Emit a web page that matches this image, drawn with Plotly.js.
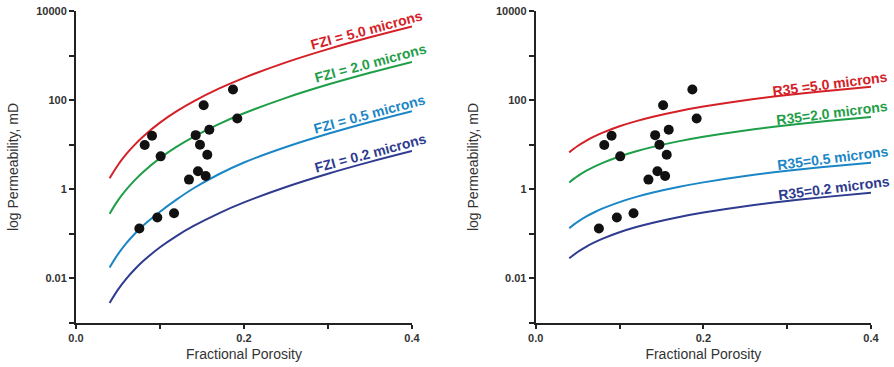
<!DOCTYPE html>
<html>
<head>
<meta charset="utf-8">
<script src="https://cdn.plot.ly/plotly-3.0.1.min.js"></script>
<style>html,body{margin:0;padding:0;background:#fff}#chart{width:894px;height:367px}</style>
</head>
<body>
<div id="chart"></div>
<script>
// Porosity values along the curves
var curvePhi = [0.04, 0.05, 0.06, 0.07, 0.08, 0.10, 0.12, 0.14, 0.17, 0.20, 0.25, 0.30, 0.35, 0.40];

// Left panel: FZI curves (permeability, mD)
var fzi50 = [1.761, 3.512, 6.197, 10.05, 15.33, 31.29, 56.56, 94.05, 180.8, 316.9, 704.2, 1397, 2572, 4507];
var fzi20 = [0.2818, 0.5619, 0.9915, 1.608, 2.453, 5.006, 9.050, 15.05, 28.93, 50.70, 112.7, 223.5, 411.5, 721.1];
var fzi05 = [0.01761, 0.03512, 0.06197, 0.1005, 0.1533, 0.3129, 0.592, 1.055, 2.173, 3.99, 8.866, 17.59, 32.38, 56.74];
var fzi02 = [0.002818, 0.005619, 0.009915, 0.01608, 0.02453, 0.05006, 0.0905, 0.1505, 0.2893, 0.507, 1.127, 2.235, 4.115, 7.211];

// Right panel: R35 curves (permeability, mD)
var r35_50 = [6.737, 9.352, 12.23, 15.33, 18.65, 25.89, 33.85, 42.46, 56.47, 71.72, 99.53, 130.1, 163.2, 198.6];
var r35_20 = [1.418, 1.969, 2.573, 3.227, 3.926, 5.451, 7.125, 8.937, 11.89, 15.10, 20.95, 27.39, 34.35, 41.81];
var r35_05 = [0.1342, 0.1863, 0.2436, 0.3055, 0.3716, 0.5159, 0.6745, 0.8459, 1.125, 1.429, 1.983, 2.592, 3.252, 3.957];
var r35_02 = [0.02825, 0.03922, 0.05129, 0.06429, 0.07821, 0.1086, 0.1420, 0.1780, 0.2368, 0.3008, 0.4174, 0.5456, 0.6844, 0.8329];

// Sample points
var samplePhi  = [0.0754, 0.0968, 0.1167, 0.0818, 0.0905, 0.1008, 0.1345, 0.1452, 0.1544, 0.1425, 0.1476, 0.1563, 0.1587, 0.1520, 0.1869, 0.1920];
var samplePerm = [0.132, 0.233, 0.290, 9.84, 15.9, 5.48, 1.65, 2.53, 1.99, 16.4, 10.0, 5.98, 21.7, 77.1, 173, 38.8];

// Labels
var fziLabels = ['FZI = 5.0 microns', 'FZI = 2.0 microns', 'FZI = 0.5 microns', 'FZI = 0.2 microns'];
var r35Labels = ['R35 =5.0 microns', 'R35=2.0 microns', 'R35=0.5 microns', 'R35=0.2 microns'];
var yTickVals = [0.001, 0.01, 0.1, 1, 10, 100, 1000, 10000];
var yTickText = ['', '0.01', '', '1', '', '100', '', '10000'];
var xTickVals = [0, 0.1, 0.2, 0.3, 0.4];
var xTickText = ['0.0', '', '0.2', '', '0.4'];

var colors = ['#d42027', '#1f9e48', '#1b86c5', '#2e3b8f'];

function line(y, c, xa, ya) {
  return {x: curvePhi, y: y, mode: 'lines', line: {color: c, width: 2, shape: 'spline'},
          xaxis: xa, yaxis: ya, hoverinfo: 'skip', showlegend: false};
}
function pts(xa, ya) {
  return {x: samplePhi, y: samplePerm, mode: 'markers', marker: {color: '#111', size: 10},
          xaxis: xa, yaxis: ya, showlegend: false};
}

var data = [
  line(fzi50, colors[0], 'x', 'y'), line(fzi20, colors[1], 'x', 'y'),
  line(fzi05, colors[2], 'x', 'y'), line(fzi02, colors[3], 'x', 'y'),
  pts('x', 'y'),
  line(r35_50, colors[0], 'x2', 'y2'), line(r35_20, colors[1], 'x2', 'y2'),
  line(r35_05, colors[2], 'x2', 'y2'), line(r35_02, colors[3], 'x2', 'y2'),
  pts('x2', 'y2')
];

var tickFont = {family: 'Liberation Sans, Arial, sans-serif', size: 11, color: '#333', weight: 'bold'};
var titleFont = {family: 'Liberation Sans, Arial, sans-serif', size: 14, color: '#333'};

function xax(dom, anchor) {
  return {domain: dom, anchor: anchor, range: [0, 0.4], tickvals: xTickVals, ticktext: xTickText,
    showgrid: false, zeroline: false, showline: true, linecolor: '#222', linewidth: 2,
    ticks: 'outside', ticklen: 4, tickwidth: 2, tickcolor: '#222', tickfont: tickFont,
    title: {text: 'Fractional Porosity', font: titleFont, standoff: 6}};
}
function yax(anchor) {
  return {domain: [0, 1], anchor: anchor, type: 'log', range: [-3, 4], tickvals: yTickVals, ticktext: yTickText,
    showgrid: false, zeroline: false, showline: true, linecolor: '#222', linewidth: 2,
    ticks: 'outside', ticklen: 5, tickwidth: 2, tickcolor: '#222', tickfont: tickFont,
    title: {text: 'log Permeability, mD', font: titleFont, standoff: 14}};
}

var annFont = {family: 'Liberation Sans, Arial, sans-serif', size: 14, weight: 'bold'};
var fziPos = [[0.346, 3.58], [0.351, 2.836], [0.349, 1.679], [0.351, 0.806]];
var r35Pos = [[0.351, 2.373], [0.353, 1.717], [0.355, 0.694], [0.356, 0.029]];
var annotations = [];
for (var i = 0; i < 4; i++) {
  annotations.push({x: fziPos[i][0], y: fziPos[i][1], xref: 'x', yref: 'y', text: fziLabels[i],
    showarrow: false, textangle: -15, font: Object.assign({color: colors[i]}, annFont)});
  annotations.push({x: r35Pos[i][0], y: r35Pos[i][1], xref: 'x2', yref: 'y2', text: r35Labels[i],
    showarrow: false, textangle: -7.3, font: Object.assign({color: colors[i]}, annFont)});
}

var layout = {
  width: 894, height: 367,
  margin: {l: 0, r: 0, t: 11, b: 44},
  paper_bgcolor: '#fff', plot_bgcolor: '#fff',
  xaxis: xax([76/894, 412/894], 'y'),
  yaxis: yax('x'),
  xaxis2: xax([535.7/894, 871/894], 'y2'),
  yaxis2: yax('x2'),
  annotations: annotations
};

Plotly.newPlot('chart', data, layout, {displayModeBar: false, staticPlot: true});
</script>
</body>
</html>
